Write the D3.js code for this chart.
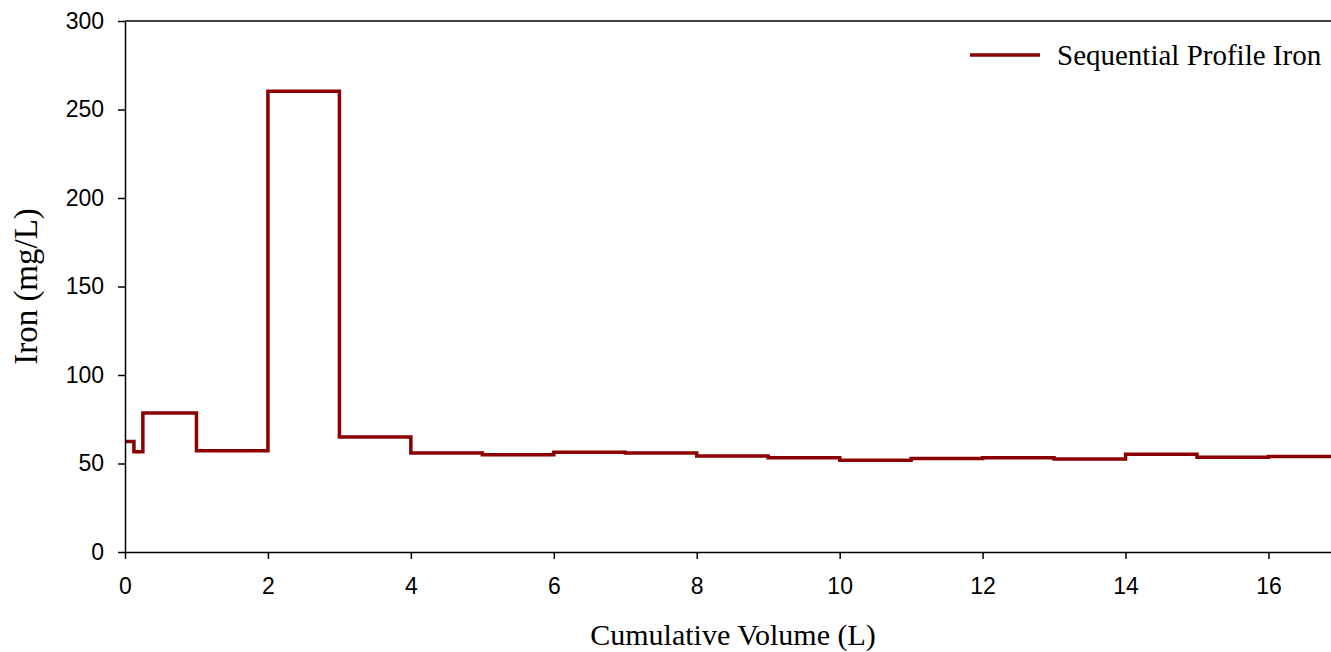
<!DOCTYPE html>
<html>
<head>
<meta charset="utf-8">
<script src="https://cdn.jsdelivr.net/npm/d3@7"></script>
<style>
  body { margin: 0; background: #fff; }
</style>
</head>
<body>
<div id="chart"></div>
<script>
// interval edges (L) and iron level in each interval (mg/L)
const volumeStart = [0, 0.125, 0.25, 1, 2, 3, 4, 5, 6, 7, 8, 9, 10, 11, 12, 13, 14, 15, 16];
const volumeEnd   = [0.125, 0.25, 1, 2, 3, 4, 5, 6, 7, 8, 9, 10, 11, 12, 13, 14, 15, 16, 17];
const ironValues  = [62.5, 56.7, 78.5, 57.2, 260.3, 65, 56, 55, 56.3, 56, 54.3, 53.3, 51.8, 52.8, 53.3, 52.5, 55.2, 53.6, 54];
const xTicks = [0, 2, 4, 6, 8, 10, 12, 14, 16];
const yTicks = [0, 50, 100, 150, 200, 250, 300];

const fullWidth = 1331, fullHeight = 652;
const margin = { top: 21, right: 0, bottom: 100, left: 125 };
const width = fullWidth - margin.left - margin.right;
const height = fullHeight - margin.top - margin.bottom;

const svg = d3.select("#chart")
  .append("svg")
  .attr("width", fullWidth)
  .attr("height", fullHeight);

const chart = svg.append("g")
  .attr("transform", `translate(${margin.left},${margin.top})`);

const x = d3.scaleLinear().domain([0, 16.875]).range([0, width]);
const y = d3.scaleLinear().domain([0, 300]).range([height, 0]);

chart.append("defs").append("clipPath")
  .attr("id", "clip")
  .append("rect")
  .attr("width", width)
  .attr("height", height);

// build step points
const pts = [];
ironValues.forEach((v, i) => {
  pts.push([volumeStart[i], v]);
  pts.push([volumeEnd[i], v]);
});

const line = d3.line()
  .x(d => x(d[0]))
  .y(d => y(d[1]));

chart.append("path")
  .datum(pts)
  .attr("clip-path", "url(#clip)")
  .attr("fill", "none")
  .attr("stroke", "#8b0000")
  .attr("stroke-width", 3.5)
  .attr("d", line);

// === Axes ===
const xAxis = chart.append("g")
  .attr("transform", `translate(0, ${height})`)
  .call(d3.axisBottom(x).tickValues(xTicks).tickSize(7).tickSizeOuter(0).tickPadding(19));

const yAxis = chart.append("g")
  .call(d3.axisLeft(y).tickValues(yTicks).tickSize(7).tickSizeOuter(0).tickPadding(14));

[xAxis, yAxis].forEach(a => {
  a.selectAll("path, line").attr("stroke", "#000").attr("stroke-width", 1.5);
  a.selectAll("text")
    .style("font-family", "'Liberation Sans', Arial, sans-serif")
    .style("font-size", "23px")
    .style("fill", "#000");
});

// top frame
chart.append("line")
  .attr("x1", 0).attr("x2", width)
  .attr("y1", 0).attr("y2", 0)
  .attr("stroke", "#000")
  .attr("stroke-width", 1.5);

// === Axis Labels ===
svg.append("text")
  .attr("x", 733)
  .attr("y", 645)
  .attr("text-anchor", "middle")
  .style("font-family", "'Liberation Serif', 'Times New Roman', serif")
  .style("font-size", "30px")
  .text("Cumulative Volume (L)");

svg.append("text")
  .attr("transform", `translate(37, ${margin.top + height / 2}) rotate(-90)`)
  .attr("text-anchor", "middle")
  .style("font-family", "'Liberation Serif', 'Times New Roman', serif")
  .style("font-size", "33px")
  .text("Iron (mg/L)");

// === Legend ===
const legend = svg.append("g").attr("transform", "translate(970, 55)");
legend.append("line")
  .attr("x1", 0).attr("x2", 70)
  .attr("y1", 0).attr("y2", 0)
  .attr("stroke", "#8b0000")
  .attr("stroke-width", 3.5);
legend.append("text")
  .attr("x", 87)
  .attr("y", 10)
  .style("font-family", "'Liberation Serif', 'Times New Roman', serif")
  .style("font-size", "29px")
  .text("Sequential Profile Iron");
</script>
</body>
</html>
